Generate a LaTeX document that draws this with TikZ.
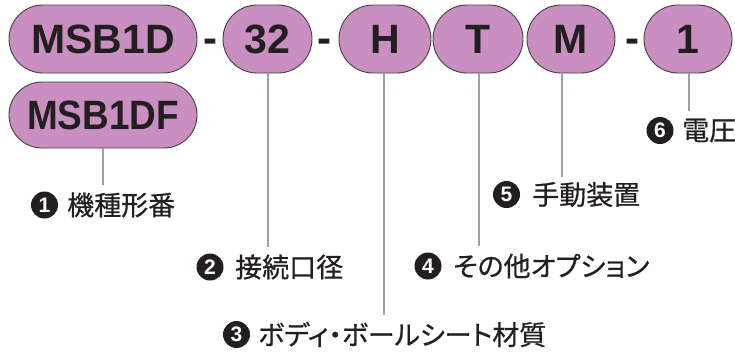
\documentclass[tikz,border=0pt]{standalone}
\usepackage{fontspec}
\setmainfont{Liberation Sans}
\newfontfamily\jp[RawFeature=+palt, FakeBold=0.6]{Noto Sans CJK JP}
\definecolor{pillfill}{RGB}{200,143,192}
\definecolor{ink}{RGB}{35,31,32}
\definecolor{lead}{RGB}{160,160,160}
\begin{document}
\begin{tikzpicture}[x=1pt,y=-1pt,
 pill/.style={rectangle, rounded corners=34pt, draw=ink!85, line width=0.9pt, fill=pillfill, minimum height=68pt, inner sep=0pt, font=\fontsize{41}{41}\selectfont\bfseries, text=ink},
 sep/.style={font=\fontsize{42}{42}\selectfont\bfseries, text=ink, inner sep=0pt, anchor=base},
 leader/.style={draw=lead, line width=1.6pt},
 num/.style={circle, fill=ink, minimum size=27pt, inner sep=0pt, text=white, font=\fontsize{21}{21}\selectfont\bfseries},
 lab/.style={anchor=west, inner sep=0pt, text=ink, font=\jp\fontsize{27}{27}\selectfont}
]
\useasboundingbox (0,0) rectangle (735,351);
% pills
\node[pill, minimum width=188pt] (msb1d) at (103,39) {MSB1D};
\node[pill, minimum width=188pt, minimum height=66pt, rounded corners=33pt] (msb1df) at (103,115) {\scalebox{0.9}[1]{MSB1DF}};
\node[pill, minimum width=89pt] (p32) at (267.5,39) {32};
\node[pill, minimum width=92pt] (pH) at (385,39) {H};
\node[pill, minimum width=90pt] (pT) at (478,39) {T};
\node[pill, minimum width=88pt] (pM) at (571,39) {M};
\node[pill, minimum width=88pt] (p1) at (688,39) {1};
% separators
\node[sep] (d1) at (210,52) {-};
\node[sep] (d2) at (324.5,52) {-};
\node[sep] (d3) at (632,52) {-};
% leader ends
\coordinate (e1) at (103,185);
\coordinate (e2) at (268,247);
\coordinate (e3) at (384,315);
\coordinate (e4) at (479,246);
\coordinate (e5) at (562,177);
\coordinate (e6) at (689,111);
\draw[leader] (msb1df.south -| e1) -- (e1);
\draw[leader] (p32.south -| e2) -- (e2);
\draw[leader] (pH.south -| e3) -- (e3);
\draw[leader] (pT.south -| e4) -- (e4);
\draw[leader] (pM.south -| e5) -- (e5);
\draw[leader] (p1.south -| e6) -- (e6);
% labels
\node[num] (n1) at (44.5,205) {1};
\node[lab] (t1) at (67,205) {機種形番};
\node[num] (n2) at (210,267) {2};
\node[lab] (t2) at (235,267) {接続口径};
\node[num] (n3) at (236.5,334.5) {3};
\node[lab] (t3) at (258,334.5) {ボディ・ボールシート材質};
\node[num] (n4) at (428,266) {4};
\node[lab] (t4) at (453,266) {その他オプション};
\node[num] (n5) at (506.5,194.5) {5};
\node[lab] (t5) at (532,194.5) {手動装置};
\node[num] (n6) at (660,130.5) {6};
\node[lab] (t6) at (682,130.5) {電圧};
\end{tikzpicture}
\end{document}
